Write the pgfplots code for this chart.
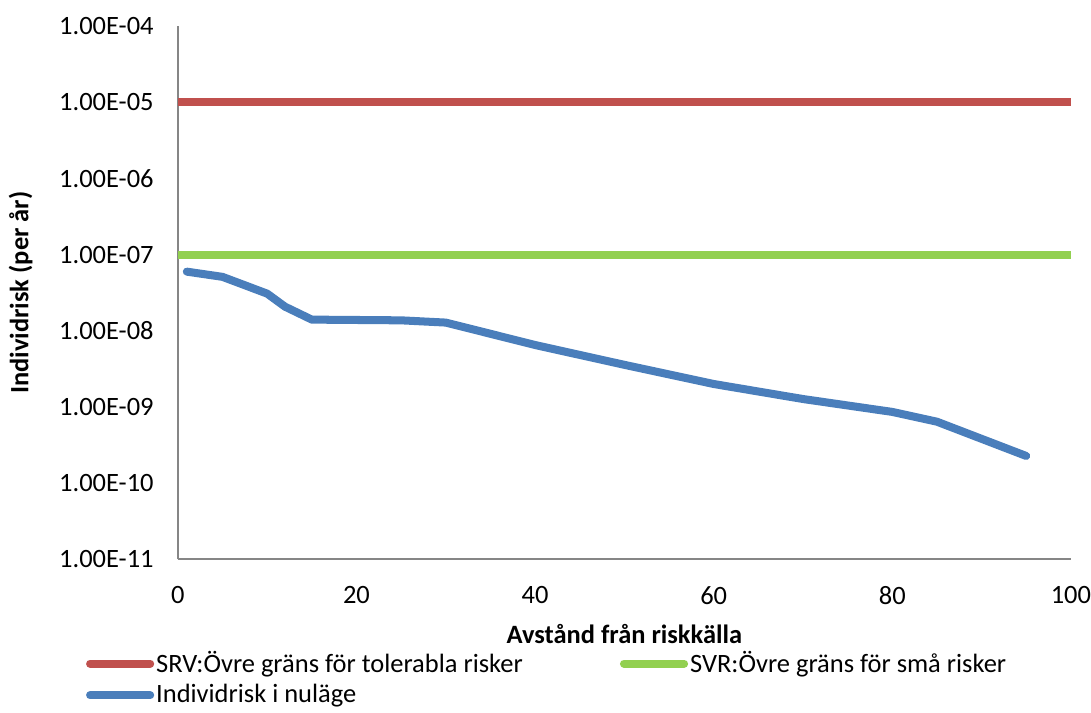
\documentclass[border=0pt]{standalone}
\usepackage{pgfplots}
\pgfplotsset{compat=1.18}
\usepackage{fontspec}
\setmainfont{Carlito}
\definecolor{cred}{HTML}{C0504D}
\definecolor{cgreen}{HTML}{92D050}
\definecolor{cblue}{HTML}{4A7EBB}
\definecolor{cax}{HTML}{868686}
\newcommand{\fs}{\fontsize{13.2}{15.8}\selectfont}
\begin{document}
\fs
\begin{tikzpicture}
\begin{axis}[
  axis lines=left,
  scale only axis,
  width=445.5pt, height=266pt,
  xmin=0, xmax=100, ymode=log, ymin=1e-11, ymax=1e-4,
  axis line style={cax, line width=1pt, -},
  major tick length=0pt, minor tick length=0pt,
  yminorticks=false,
  xtick={0,20,40,60,80,100},
  ytick={1e-11,1e-10,1e-9,1e-8,1e-7,1e-6,1e-5,1e-4},
  yticklabels={1.00E-11,1.00E-10,1.00E-09,1.00E-08,1.00E-07,1.00E-06,1.00E-05,1.00E-04},
  /pgf/number format/assume math mode=true,
  tick label style={font=\fs},
  xticklabel style={yshift=-9pt, inner xsep=0pt},
  yticklabel style={xshift=-7.5pt},
  xlabel={\textbf{Avstånd från riskkälla}},
  ylabel={\textbf{Individrisk (per år)}},
  every axis x label/.style={at={(axis description cs:0.5,-0.141)}, anchor=center, font=\fs},
  every axis y label/.style={at={(axis description cs:-0.176,0.5)}, anchor=center, rotate=90, font=\fs},
  legend columns=2,
  legend cell align=left,
  legend style={draw=none, fill=none, at={(axis description cs:-0.11,-0.16)}, anchor=north west,
    font=\fs, row sep=2pt,
    /tikz/every even column/.append style={column sep=47.5pt},
    nodes={inner sep=1pt}},
  legend image code/.code={\draw[#1, line cap=round] (0pt,0pt) -- (30pt,0pt);},
  clip=false,
  extra description/.code={\path (axis description cs:0,1) ++(0pt,13pt);},
]
\addplot[cred, line width=4pt] coordinates {(0,1e-5) (100,1e-5)};
\addlegendentry{SRV:Övre gräns för tolerabla risker}
\addplot[cgreen, line width=4pt] coordinates {(0,1e-7) (100,1e-7)};
\addlegendentry{SVR:Övre gräns för små risker}
\addplot[cblue, line width=4pt, line cap=round, line join=round] coordinates {
(1,5.97e-8) (5,5.1e-8) (10,3.07e-8) (12,2.07e-8) (15,1.4e-8) (25,1.37e-8) (30,1.28e-8)
(40,6.5e-9) (50,3.57e-9) (60,2.0e-9) (70,1.27e-9) (80,8.6e-10) (85,6.4e-10) (95,2.27e-10)};
\addlegendentry{Individrisk i nuläge}
\end{axis}
\end{tikzpicture}
\end{document}
